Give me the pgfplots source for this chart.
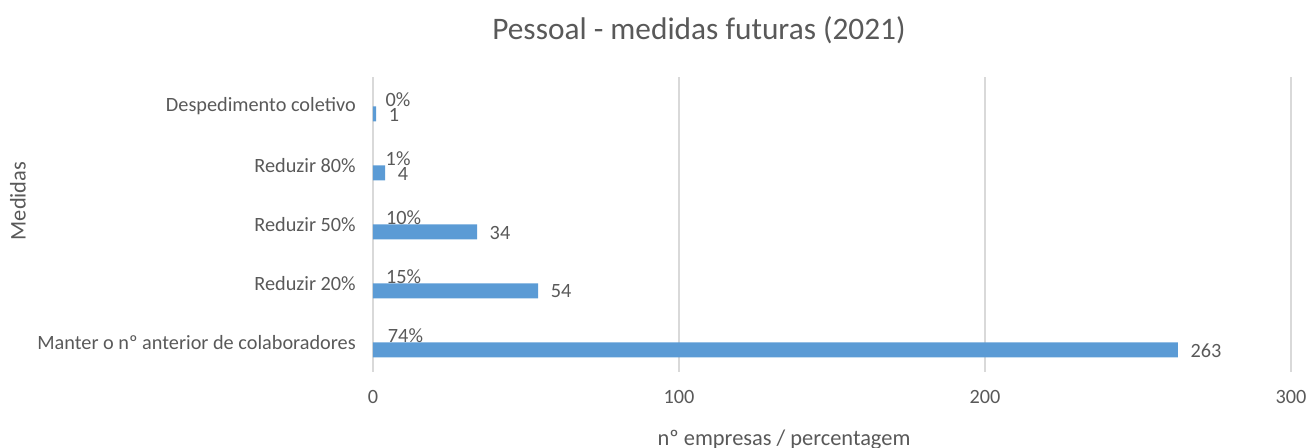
\documentclass[border=0pt]{standalone}
\usepackage{fontspec}
\setmainfont{Carlito}
\usepackage{pgfplots}
\pgfplotsset{compat=1.18}
\definecolor{barblue}{HTML}{5B9BD5}
\definecolor{txt}{HTML}{595959}
\definecolor{gridc}{HTML}{D9D9D9}
\begin{document}
\begin{tikzpicture}[x=1pt,y=1pt]
\useasboundingbox (-279.75,-57) rectangle (701.25,279);
\begin{axis}[
  at={(0pt,0pt)}, anchor=south west, scale only axis,
  width=688.5pt, height=221.25pt,
  xmin=0, xmax=300, ymin=-0.5, ymax=4.5,
  xtick={0,100,200,300},
  ytick={0,1,2,3,4},
  yticklabels={Manter o nº anterior de colaboradores, Reduzir 20\%, Reduzir 50\%, Reduzir 80\%, Despedimento coletivo},
  xmajorgrids,
  major grid style={gridc, line width=0.9pt},
  axis line style={draw=none},
  major tick length=0pt,
  /pgf/number format/assume math mode=true,
  tick label style={font=\fontsize{15.2}{18}\selectfont, text=txt},
  xticklabel style={anchor=center, yshift=-18.75pt},
  yticklabel style={anchor=east, inner sep=0pt, xshift=-12.75pt},
  clip=false,
]
\addplot[xbar, bar width=11.25pt, bar shift=-5.625pt, fill=barblue, draw=none,
  nodes near coords,
  nodes near coords style={anchor=west, xshift=6pt, yshift=-6pt, text=txt, font=\fontsize{15.2}{18}\selectfont}]
  coordinates {(263,0) (54,1) (34,2) (4,3) (1,4)};
\addplot[xbar, bar width=11.25pt, bar shift=5.625pt, fill=none, draw=none,
  point meta=explicit symbolic,
  nodes near coords={\pgfplotspointmeta},
  nodes near coords style={anchor=west, xshift=6pt, yshift=5.4pt, text=txt, font=\fontsize{15.2}{18}\selectfont}]
  coordinates {(0.7388,0) [74\%] (0.1517,1) [15\%] (0.0955,2) [10\%] (0.0112,3) [1\%] (0.0028,4) [0\%]};
\end{axis}
\node[text=txt, font=\fontsize{23.5}{27}\selectfont] at (244.5,256.5) {Pessoal - medidas futuras (2021)};
\node[text=txt, font=\fontsize{16.8}{20}\selectfont] at (308.25,-51) {nº empresas / percentagem};
\node[text=txt, font=\fontsize{16.8}{20}\selectfont, rotate=90] at (-266.25,128.25) {Medidas};
\end{tikzpicture}
\end{document}
